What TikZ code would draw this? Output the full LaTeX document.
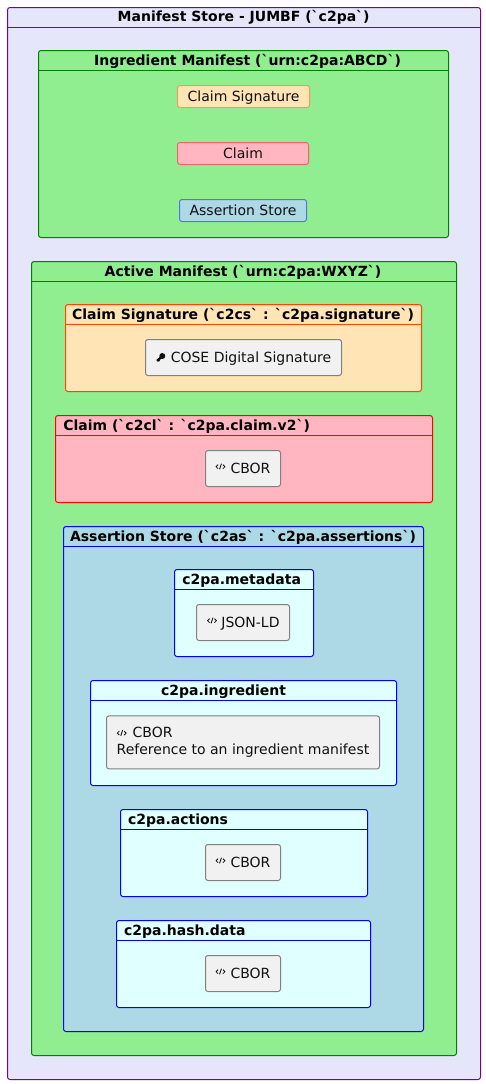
\documentclass[tikz,border=0pt]{standalone}
\usepackage{fontspec}
\newfontfamily\dvs{DejaVu Sans}
\definecolor{storefill}{HTML}{E6E6FA}
\definecolor{greenfill}{HTML}{90EE90}
\definecolor{sigfill}{HTML}{FFE4B5}
\definecolor{claimfill}{HTML}{FFB6C1}
\definecolor{bluefill}{HTML}{ADD8E6}
\definecolor{cyanfill}{HTML}{E0FFFF}
\definecolor{leaffill}{HTML}{F1F1F1}
\definecolor{leafline}{HTML}{808080}
\definecolor{inksoft}{HTML}{101010}
\definecolor{purpleline}{HTML}{800080}
\definecolor{greenline}{HTML}{008000}
\definecolor{orangeline}{HTML}{FF4500}
\definecolor{redline}{HTML}{FF0000}
\definecolor{blueline}{HTML}{0000FF}
\definecolor{sigsmall}{HTML}{F09A5E}
\definecolor{claimsmall}{HTML}{EE666A}
\definecolor{assertsmall}{HTML}{4F78DC}
\tikzset{
  packbox/.style={rectangle,rounded corners=2.5pt,inner sep=0pt,outer sep=0pt,line width=1pt},
  packtitle/.style={inner sep=0pt,outer sep=0pt,font=\dvs\fontsize{14}{17}\selectfont\bfseries,text=black},
  leafbox/.style={rectangle,rounded corners=2.5pt,draw=leafline,fill=leaffill,line width=1pt,inner sep=0pt,outer sep=0pt,
     font=\dvs\fontsize{14}{17.3}\selectfont,text=inksoft,minimum height=36pt},
  leafone/.style={leafbox,text height=12.4pt,text depth=2pt},
  smallbox/.style={rectangle,rounded corners=2.5pt,line width=1pt,inner sep=0pt,outer sep=0pt,
     font=\dvs\fontsize{14}{17}\selectfont,text=inksoft,minimum height=22pt,text height=11.9pt,text depth=2.1pt},
  codeicon/.pic={
    \draw[line width=0.8pt,draw=inksoft] (-2.4,-1.9) -- (-4.4,0.2) -- (-2.4,2.2)
      (2.4,-1.9) -- (4.4,0.2) -- (2.4,2.2);
    \draw[line width=0.9pt,draw=inksoft] (-0.9,2.8) -- (0.9,-2.8);
  },
  keyicon/.pic={
    \fill[inksoft] (1.8,-1.5) circle (3pt);
    \draw[line width=2.4pt,draw=inksoft] (1.0,-0.7) -- (-3.4,3.5);
    \draw[line width=1.4pt,draw=inksoft] (-2.2,2.3) -- (-1.0,3.5);
  }
}
\newcommand{\packnode}[7]{%
  \pgfmathsetmacro{\pkw}{#4-#2}\pgfmathsetmacro{\pkh}{#5-#3}%
  \pgfmathsetmacro{\pkx}{(#4+#2)/2}\pgfmathsetmacro{\pky}{(#5+#3)/2}%
  \node[packbox,fill=#6,draw=#7,minimum width=\pkw pt,minimum height=\pkh pt] (#1) at (\pkx,\pky) {};
  \draw[line width=1pt,draw=#7] ([yshift=-20pt]#1.north west) -- ([yshift=-20pt]#1.north east);
}
\begin{document}
\begin{tikzpicture}[x=1pt,y=-1pt]
\useasboundingbox (0,0) rectangle (486,1084);
\fill[white] (0,0) rectangle (486,1084);

\packnode{store}{7.5}{7.5}{480.5}{1079.5}{storefill}{purpleline}
\node[packtitle,anchor=base] (storeT) at (243.7,21.5) {Manifest Store - JUMBF (`c2pa`)};

\packnode{ingr}{38.5}{50.5}{448.5}{237.5}{greenfill}{greenline}
\node[packtitle,anchor=base] (ingrT) at (247.5,65.5) {Ingredient Manifest (`urn:c2pa:ABCD`)};
\node[smallbox,fill=sigfill,draw=sigsmall,minimum width=132pt] (ingrSig) at (243.5,96.5) {Claim Signature};
\node[smallbox,fill=claimfill,draw=claimsmall,minimum width=131pt] (ingrClaim) at (243,153.5) {Claim};
\node[smallbox,fill=bluefill,draw=assertsmall,minimum width=127pt] (ingrAssert) at (243,210.5) {Assertion Store};

\packnode{active}{31.5}{261.5}{456.5}{1055.5}{greenfill}{greenline}
\node[packtitle,anchor=base] (activeT) at (243,276) {Active Manifest (`urn:c2pa:WXYZ`)};

\packnode{sig}{65.5}{304.5}{421.5}{391.5}{sigfill}{orangeline}
\node[packtitle,anchor=base] (sigT) at (243,319) {Claim Signature (`c2cs` : `c2pa.signature`)};
\node[leafone,minimum width=196pt] (cose) at (243.5,357.5) {\hspace{15pt}COSE Digital Signature};
\pic at ([xshift=15pt]cose.west) {keyicon};

\packnode{claim}{55.5}{415.5}{432.5}{502.5}{claimfill}{redline}
\node[packtitle,anchor=base west] (claimT) at (63.3,430) {Claim (`c2cl` : `c2pa.claim.v2`)};
\node[leafone,minimum width=75pt] (claimCbor) at (243,468.5) {\hspace{15pt}CBOR};
\pic at ([xshift=15pt,yshift=2pt]claimCbor.west) {codeicon};

\packnode{assert}{63.5}{526.5}{423.5}{1031.5}{bluefill}{blueline}
\node[packtitle,anchor=base] (assertT) at (243,541) {Assertion Store (`c2as` : `c2pa.assertions`)};

\packnode{meta}{174.5}{569.5}{313.5}{656.5}{cyanfill}{blueline}
\node[packtitle,anchor=base west] (metaT) at (182.3,584) {c2pa.metadata};
\node[leafone,minimum width=93pt] (metaJson) at (243,622.5) {\hspace{15pt}JSON-LD};
\pic at ([xshift=15.5pt,yshift=2pt]metaJson.west) {codeicon};

\packnode{ingred}{90.5}{680.5}{396.5}{785.5}{cyanfill}{blueline}
\node[packtitle,anchor=base west] (ingredT) at (161,695) {c2pa.ingredient};
\node[leafbox,minimum width=273pt,minimum height=53pt,align=left] (ingredCbor) at (243,742.4) {\hspace{16pt}CBOR\\Reference to an ingredient manifest};
\pic at ([xshift=15.2pt,yshift=9.5pt]ingredCbor.west) {codeicon};

\packnode{actions}{120.5}{809.5}{367.5}{896.5}{cyanfill}{blueline}
\node[packtitle,anchor=base west] (actionsT) at (128,824) {c2pa.actions};
\node[leafone,minimum width=75pt] (actionsCbor) at (243,862.5) {\hspace{15pt}CBOR};
\pic at ([xshift=15pt,yshift=2pt]actionsCbor.west) {codeicon};

\packnode{hash}{116.5}{920.5}{370.5}{1007.5}{cyanfill}{blueline}
\node[packtitle,anchor=base west] (hashT) at (124,935) {c2pa.hash.data};
\node[leafone,minimum width=75pt] (hashCbor) at (243,973.5) {\hspace{15pt}CBOR};
\pic at ([xshift=15pt,yshift=2pt]hashCbor.west) {codeicon};
\end{tikzpicture}
\end{document}
